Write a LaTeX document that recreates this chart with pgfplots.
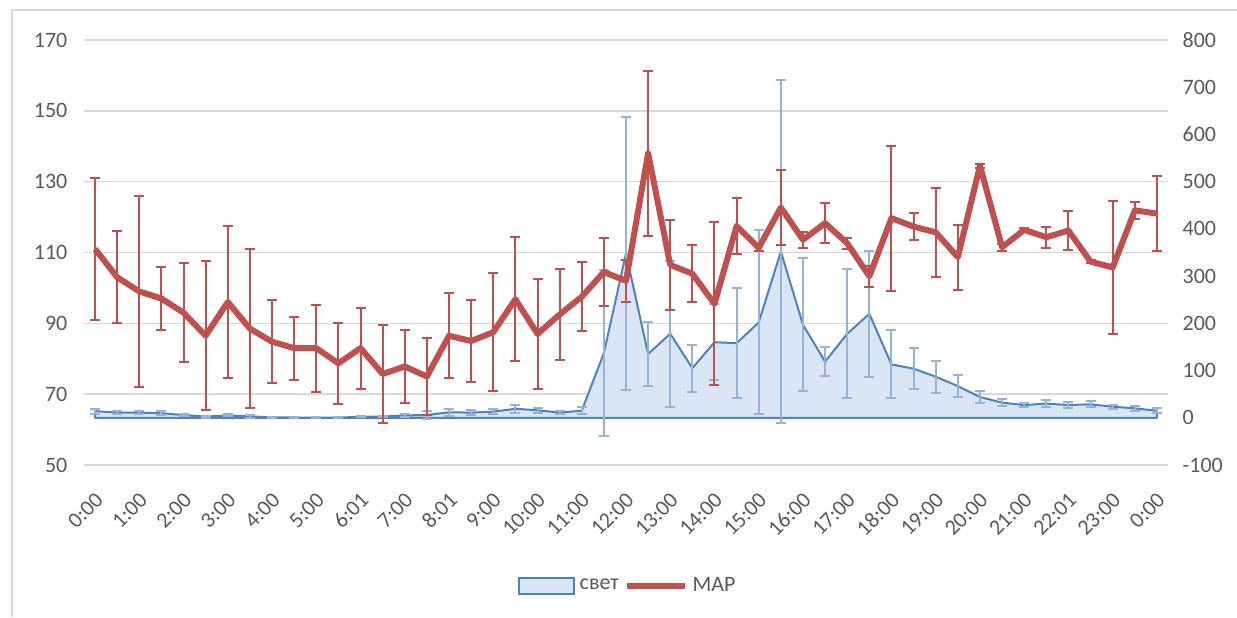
\documentclass[border=0pt]{standalone}
\usepackage{fontspec}
\setmainfont{Carlito}
\usepackage{pgfplots}
\pgfplotsset{compat=1.18}
\usepackage{pgfplotstable}

\definecolor{mapred}{RGB}{192,80,77}
\definecolor{blueline}{RGB}{79,129,189}
\definecolor{blueerr}{RGB}{149,179,215}
\definecolor{areafill}{RGB}{218,230,245}
\definecolor{gridgrey}{RGB}{217,217,217}
\definecolor{textgrey}{RGB}{89,89,89}

\pgfplotstableread{
x y e
0 111 20
1 103 13
2 99 27
3 97 9
4 93 14
5 86.5 21
6 96 21.5
7 88.5 22.4
8 84.8 11.7
9 83 8.9
10 83 12.3
11 78.7 11.5
12 83 11.4
13 75.7 13.7
14 77.8 10.3
15 75 11
16 86.5 12
17 85 11.5
18 87.5 16.7
19 96.8 17.5
20 87 15.6
21 92.5 12.9
22 97.5 9.7
23 104.5 9.7
24 102 6
25 138 23.3
26 106.5 12.6
27 104 8
28 95.5 23
29 117.5 8
30 111.3 1
31 122.7 10.6
32 113.6 2.3
33 118.3 5.7
34 112.6 1.5
35 103.3 3
36 119.7 20.5
37 117.3 3.8
38 115.7 12.6
39 108.7 9.2
40 134.5 0.5
41 111.5 1
42 116.4 0.5
43 114.3 3
44 116.2 5.5
45 107.4 0.5
46 105.8 18.7
47 121.9 2.3
48 121 10.6
}\mapdata

\pgfplotstableread{
x y e
0 14 5
1 11 4
2 11 3
3 9.5 4
4 6 2
5 2.5 2
6 5 2
7 3 3
8 1 1
9 0.5 0.5
10 0.5 0.5
11 0.5 0.5
12 2 1
13 2.5 1.5
14 5 3
15 6 8
16 11.5 8
17 11 6
18 13 5
19 19 9
20 16 5
21 11 4
22 15 8
23 137 176
24 348 290
25 135 67
26 178 155
27 105 50
28 160 80
29 158 116
30 202 195
31 352 363
32 197 141
33 119 30
34 178 137
35 220 134
36 113 72
37 104 44
38 87 34
39 67 23
40 44 13
41 32 7
42 27 4
43 30 7
44 27 7
45 28.5 6
46 23.5 4
47 20 6
48 15 5
}\lightdata

\pgfplotsset{
  base/.style={
    scale only axis,
    width=542pt, height=212.5pt,
    at={(42pt,76pt)}, anchor=south west,
    xmin=-0.5, xmax=48.5,
    axis line style={draw=none},
    major tick length=0pt,
    /pgf/number format/assume math mode=true,
    every tick label/.append style={font=\fontsize{11}{13}\selectfont, text=textgrey},
  }
}

\begin{document}
\begin{tikzpicture}
\path[use as bounding box] (0,0) rectangle (618.5pt,308.5pt);
\draw[gridgrey, line width=0.8pt] (6pt,0) -- (6pt,303.5pt) -- (618.5pt,303.5pt);

% left axis: ticks and grid
\begin{axis}[base,
  ymin=50, ymax=170, ytick={50,70,...,170},
  ymajorgrids, major grid style={gridgrey, line width=0.8pt},
  yticklabel style={xshift=-4.8pt},
  xtick={0,2,...,48},
  xticklabels={0:00,1:00,2:00,3:00,4:00,5:00,6:01,7:00,8:01,9:00,10:00,11:00,12:00,13:00,14:00,15:00,16:00,17:00,18:00,19:00,20:00,21:00,22:01,23:00,0:00},
  xticklabel style={xshift=2.2pt, yshift=-15.5pt, rotate=45, anchor=east, inner sep=0pt},
]
\end{axis}

% right axis: light
\begin{axis}[base,
  ymin=-100, ymax=800, ytick={-100,0,...,800},
  yticklabel pos=right,
  yticklabel style={xshift=3.8pt},
  xtick=\empty,
]
\addplot[draw=blueline, fill=areafill, line width=1pt, line join=round] table[x=x,y=y]{\lightdata} \closedcycle;
\addplot[draw=none, mark=none,
  error bars/.cd, y dir=both, y explicit,
  error bar style={draw=blueerr, line width=1pt},
  error mark options={rotate=90, draw=blueerr, mark size=2.5pt, line width=1pt}]
  table[x=x,y=y,y error=e]{\lightdata};
\end{axis}

% MAP axis
\begin{axis}[base,
  ymin=50, ymax=170,
  xtick=\empty, ytick=\empty,
  legend style={draw=none, fill=none, at={(0.503,-0.285)}, anchor=center,
    legend columns=-1, font=\fontsize{11}{13}\selectfont, text=textgrey,
    nodes={inner sep=2.4pt},
    /tikz/every even column/.append style={column sep=0pt}},
]
\addlegendimage{legend image code/.code={\draw[draw=blueline, fill=areafill, line width=0.8pt] (0pt,-4pt) rectangle (27.5pt,4pt);}}
\addlegendentry{свет}
\addplot[mapred, line width=3pt, line join=round, mark=none,
  legend image code/.code={\draw[mapred, line width=3pt] (0pt,0pt) -- (29pt,0pt);},
  error bars/.cd, y dir=both, y explicit,
  error bar style={draw=mapred, line width=1pt},
  error mark options={rotate=90, draw=mapred, mark size=2.5pt, line width=1pt}]
  table[x=x,y=y,y error=e]{\mapdata};
\addlegendentry{MAP}
\end{axis}
\end{tikzpicture}
\end{document}
